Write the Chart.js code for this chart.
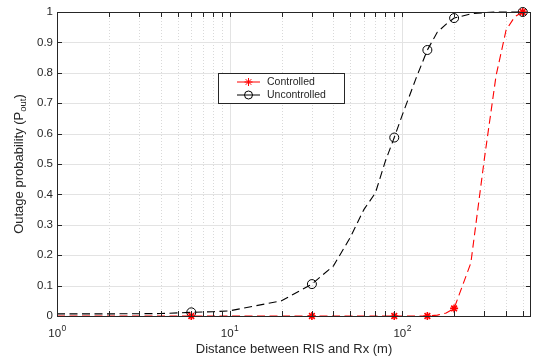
<!DOCTYPE html>
<html>
<head>
<meta charset="utf-8">
<script src="https://cdn.jsdelivr.net/npm/chart.js@4"></script>
<style>
html,body{margin:0;padding:0;background:#fff;}
#wrap{width:533px;height:358px;position:relative;}
</style>
</head>
<body>
<div id="wrap"><canvas id="c" width="533" height="358"></canvas></div>
<script>
// ---- data ----
const distances = [1, 2, 4, 6, 8, 10, 20, 30, 40, 50, 60, 70, 80, 90, 100, 120, 140, 160, 180, 200, 250, 300, 350, 400, 450, 500];
const controlled = [0, 0, 0, 0, 0, 0, 0, 0, 0, 0, 0, 0, 0, 0, 0, 0, 0, 0.003, 0.01, 0.025, 0.174, 0.52, 0.79, 0.94, 0.985, 1.0];
const uncontrolled = [0.007, 0.007, 0.008, 0.012, 0.014, 0.017, 0.05, 0.105, 0.165, 0.258, 0.35, 0.405, 0.51, 0.587, 0.66, 0.78, 0.875, 0.934, 0.96, 0.98, 0.994, 0.998, 1.0, 1.0, 1.0, 1.0];
const markerDistances = [6, 30, 90, 140, 200, 500];
const seriesNames = ['Controlled', 'Uncontrolled'];
const yTicks = [0, 0.1, 0.2, 0.3, 0.4, 0.5, 0.6, 0.7, 0.8, 0.9, 1];
const xMajorTicks = [1, 10, 100];
const xMinorTicks = [2,3,4,5,6,7,8,9,20,30,40,50,60,70,80,90,200,300,400,500];
const xTitle = 'Distance between RIS and Rx (m)';
const yTitleMain = 'Outage probability (P';
const yTitleSub = 'out';
const yTitleEnd = ')';

const FONT = '"Liberation Sans", Arial, Helvetica, sans-serif';
const AXIS = '#262626';

function toPts(ys){ return distances.map((d,i)=>({x:d, y:ys[i]})); }
function markerRadius(r){
  return ctx => markerDistances.includes(distances[ctx.dataIndex]) ? r : 0;
}

const customPlugin = {
  id: 'custom',
  beforeDatasetsDraw(chart){
    const {ctx, chartArea:a, scales:{x, y}} = chart;
    ctx.save();
    ctx.lineWidth = 1;
    ctx.strokeStyle = '#d9d9d9';
    ctx.setLineDash([1,2]);
    xMinorTicks.forEach(v=>{
      const px = Math.round(x.getPixelForValue(v))+0.5;
      ctx.beginPath(); ctx.moveTo(px, a.top); ctx.lineTo(px, a.bottom); ctx.stroke();
    });
    ctx.setLineDash([]);
    ctx.strokeStyle = '#e3e3e3';
    xMajorTicks.forEach(v=>{
      const px = Math.round(x.getPixelForValue(v))+0.5;
      ctx.beginPath(); ctx.moveTo(px, a.top); ctx.lineTo(px, a.bottom); ctx.stroke();
    });
    yTicks.forEach(v=>{
      const py = Math.round(y.getPixelForValue(v))+0.5;
      ctx.beginPath(); ctx.moveTo(a.left, py); ctx.lineTo(a.right, py); ctx.stroke();
    });
    ctx.restore();
  },
  afterDatasetsDraw(chart){
    const {ctx, chartArea:a, scales:{x, y}} = chart;
    ctx.save();
    ctx.strokeStyle = AXIS;
    ctx.lineWidth = 1;
    ctx.strokeRect(Math.round(a.left)+0.5, Math.round(a.top)+0.5, Math.round(a.right-a.left)-1, Math.round(a.bottom-a.top));
    ctx.beginPath();
    xMajorTicks.concat(xMinorTicks).forEach(v=>{
      const px = Math.round(x.getPixelForValue(v))+0.5;
      const len = 5;
      ctx.moveTo(px, a.bottom); ctx.lineTo(px, a.bottom-len);
      ctx.moveTo(px, a.top); ctx.lineTo(px, a.top+len);
    });
    yTicks.forEach(v=>{
      const py = Math.round(y.getPixelForValue(v))+0.5;
      ctx.moveTo(a.left, py); ctx.lineTo(a.left+5, py);
      ctx.moveTo(a.right, py); ctx.lineTo(a.right-5, py);
    });
    ctx.stroke();

    ctx.fillStyle = AXIS;
    ctx.font = '11.5px ' + FONT;
    ctx.textAlign = 'right';
    ctx.textBaseline = 'middle';
    yTicks.forEach(v=>{
      ctx.fillText(String(v), a.left-4, y.getPixelForValue(v));
    });
    xMajorTicks.forEach(v=>{
      const exp = String(Math.round(Math.log10(v)));
      ctx.font = '11.5px ' + FONT;
      const wb = ctx.measureText('10').width;
      ctx.font = '8.5px ' + FONT;
      const we = ctx.measureText(exp).width;
      const cx = x.getPixelForValue(v);
      const sx = cx - (wb+we)/2;
      ctx.textAlign = 'left';
      ctx.textBaseline = 'alphabetic';
      ctx.font = '11.5px ' + FONT;
      ctx.fillText('10', sx, a.bottom+21);
      ctx.font = '8.5px ' + FONT;
      ctx.fillText(exp, sx+wb+0.5, a.bottom+15);
    });
    ctx.font = '13px ' + FONT;
    ctx.textAlign = 'center';
    ctx.textBaseline = 'alphabetic';
    ctx.fillText(xTitle, (a.left+a.right)/2, 353);
    ctx.save();
    ctx.translate(23, (a.top+a.bottom)/2);
    ctx.rotate(-Math.PI/2);
    ctx.font = '13px ' + FONT;
    const w1 = ctx.measureText(yTitleMain).width;
    const w3 = ctx.measureText(yTitleEnd).width;
    ctx.font = '9.5px ' + FONT;
    const w2 = ctx.measureText(yTitleSub).width;
    let sx = -(w1+w2+w3)/2;
    ctx.textAlign = 'left';
    ctx.textBaseline = 'alphabetic';
    ctx.font = '13px ' + FONT;
    ctx.fillText(yTitleMain, sx, 0);
    ctx.font = '9.5px ' + FONT;
    ctx.fillText(yTitleSub, sx+w1, 3);
    ctx.font = '13px ' + FONT;
    ctx.fillText(yTitleEnd, sx+w1+w2, 0);
    ctx.restore();

    const lx = 218.5, ly = 73.5, lw = 126, lh = 30;
    ctx.fillStyle = '#fff';
    ctx.fillRect(lx, ly, lw, lh);
    ctx.strokeStyle = AXIS;
    ctx.lineWidth = 1;
    ctx.strokeRect(lx, ly, lw, lh);
    const rows = [82, 95];
    chart.data.datasets.forEach((ds, i)=>{
      const ry = rows[i];
      ctx.strokeStyle = ds.borderColor;
      ctx.lineWidth = 1;
      ctx.setLineDash([]);
      ctx.beginPath(); ctx.moveTo(237, ry); ctx.lineTo(260, ry); ctx.stroke();
      ctx.strokeStyle = ds.pointBorderColor;
      ctx.fillStyle = ds.pointBackgroundColor;
      Chart.helpers.drawPoint(ctx, {pointStyle: ds.pointStyle, radius: ds.legendRadius, borderWidth: 1.2}, 248.5, ry);
      ctx.fillStyle = AXIS;
      ctx.font = '10.5px ' + FONT;
      ctx.textAlign = 'left';
      ctx.textBaseline = 'middle';
      ctx.fillText(ds.label, 267, ry);
    });
    ctx.restore();
  }
};

new Chart(document.getElementById('c'), {
  type: 'line',
  data: {
    datasets: [
      {
        label: seriesNames[0],
        data: toPts(controlled),
        borderColor: '#ff0000',
        borderWidth: 1.1,
        borderDash: [8, 4.5],
        pointStyle: 'star',
        pointRadius: markerRadius(4),
        pointBorderColor: '#ff0000',
        pointBackgroundColor: '#ff0000',
        pointBorderWidth: 1.6,
        legendRadius: 4,
        tension: 0,
        clip: false,
        order: 0
      },
      {
        label: seriesNames[1],
        data: toPts(uncontrolled),
        borderColor: '#000000',
        borderWidth: 1.1,
        borderDash: [8, 4.5],
        pointStyle: 'circle',
        pointRadius: markerRadius(4.5),
        pointBorderColor: '#000000',
        pointBackgroundColor: 'rgba(0,0,0,0)',
        pointBorderWidth: 1,
        legendRadius: 4,
        tension: 0,
        clip: false,
        order: 1
      }
    ]
  },
  options: {
    responsive: false,
    animation: false,
    layout: { autoPadding: false, padding: { left: 57, right: 2, top: 12, bottom: 42 } },
    plugins: { legend: { display: false }, tooltip: { enabled: false } },
    scales: {
      x: { type: 'logarithmic', min: 1, max: 558, display: false },
      y: { type: 'linear', min: 0, max: 1, display: false }
    }
  },
  plugins: [customPlugin]
});
</script>
</body>
</html>
